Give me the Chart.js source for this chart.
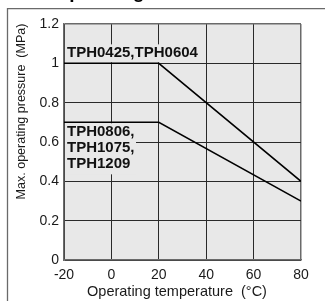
<!DOCTYPE html>
<html lang="en">
<head>
    <meta charset="UTF-8">
    <title>Max. operating pressure</title>
    <style>
        body {
            margin: 0;
            background: #fff;
        }
        canvas {
            display: block;
        }
    </style>
    <script src="https://cdn.jsdelivr.net/npm/chart.js"></script>
</head>
<body>
    <canvas id="pressureChart" width="325" height="301"></canvas>

    <script>
        // Data
        const temperatures = [-20, 20, 80];
        const pressureSmall = [1, 1, 0.4];    // TPH0425, TPH0604
        const pressureLarge = [0.7, 0.7, 0.3]; // TPH0806, TPH1075, TPH1209
        const xTicks = [-20, 0, 20, 40, 60, 80];
        const yTicks = [0, 0.2, 0.4, 0.6, 0.8, 1, 1.2];
        const yTickLabels = ['0', '0.2', '0.4', '0.6', '0.8', '1', '1.2'];
        const labelSmall = ['TPH0425,TPH0604'];
        const labelLarge = ['TPH0806,', 'TPH1075,', 'TPH1209'];

        const FONT = "'Liberation Sans', Arial, Helvetica, sans-serif";

        function toPoints(values) {
            return temperatures.map((t, i) => ({ x: t, y: values[i] }));
        }

        // Grey plot background, label boxes, titles and frame
        const decor = {
            id: 'decor',
            beforeDraw(chart) {
                const { ctx, chartArea: a } = chart;
                ctx.save();
                ctx.fillStyle = '#fff';
                ctx.fillRect(0, 0, chart.width, chart.height);
                ctx.fillStyle = '#e8e8e8';
                ctx.fillRect(a.left, a.top, a.right - a.left, a.bottom - a.top);
                ctx.restore();
            },
            beforeDatasetsDraw(chart) {
                const { ctx, scales } = chart;
                const x0 = scales.x.getPixelForValue(-20);
                ctx.save();
                ctx.fillStyle = '#e8e8e8';
                // box behind the upper label
                const y1 = scales.y.getPixelForValue(1);
                ctx.fillRect(x0 + 1, y1 - 19, 135, 18);
                // box behind the lower label
                const y2 = scales.y.getPixelForValue(0.7);
                ctx.fillRect(x0 + 1, y2 + 1, 71, 51);
                ctx.restore();
            },
            afterDatasetsDraw(chart) {
                const { ctx, scales } = chart;
                const x0 = scales.x.getPixelForValue(-20);
                ctx.save();
                ctx.fillStyle = '#111';
                ctx.font = 'bold 15px ' + FONT;
                ctx.textBaseline = 'middle';
                const y1 = scales.y.getPixelForValue(1);
                labelSmall.forEach((t, i) => ctx.fillText(t, x0 + 3, y1 - 10 + i * 16));
                const y2 = scales.y.getPixelForValue(0.7);
                labelLarge.forEach((t, i) => ctx.fillText(t, x0 + 3, y2 + 10 + i * 16));
                ctx.restore();
            },
            afterDraw(chart) {
                const { ctx } = chart;
                ctx.save();
                // outer frame (only left and top visible)
                ctx.strokeStyle = '#6a6a6a';
                ctx.lineWidth = 1.3;
                ctx.beginPath();
                ctx.moveTo(7.5, chart.height);
                ctx.lineTo(7.5, 8.7);
                ctx.lineTo(chart.width, 8.7);
                ctx.stroke();

                // heading cut off at the top edge
                ctx.fillStyle = '#000';
                ctx.font = 'bold 19px ' + FONT;
                ctx.textBaseline = 'alphabetic';
                ctx.fillText('Max. Operating Pressure', 7, -2.5);

                // axis titles
                ctx.fillStyle = '#1a1a1a';
                ctx.font = '14.5px ' + FONT;
                ctx.textAlign = 'center';
                ctx.textBaseline = 'middle';
                ctx.fillText('Operating temperature  (\u00b0C)', 177, 292);

                ctx.translate(22, 111.5);
                ctx.rotate(-Math.PI / 2);
                ctx.font = '12.5px ' + FONT;
                ctx.fillText('Max. operating pressure  (MPa)', 0, 0);
                ctx.restore();
            }
        };

        new Chart(document.getElementById('pressureChart'), {
            type: 'line',
            data: {
                datasets: [{
                    label: labelSmall.join(' '),
                    data: toPoints(pressureSmall),
                    borderColor: '#000',
                    borderWidth: 1.5,
                    pointRadius: 0,
                    tension: 0
                }, {
                    label: labelLarge.join(' '),
                    data: toPoints(pressureLarge),
                    borderColor: '#000',
                    borderWidth: 1.5,
                    pointRadius: 0,
                    tension: 0
                }]
            },
            options: {
                responsive: false,
                animation: false,
                devicePixelRatio: 1,
                layout: { padding: { left: 0, right: 24, top: 24, bottom: 0 } },
                plugins: {
                    legend: { display: false },
                    tooltip: { enabled: false }
                },
                scales: {
                    x: {
                        type: 'linear',
                        min: -20,
                        max: 80,
                        afterBuildTicks: s => { s.ticks = xTicks.map(v => ({ value: v })); },
                        afterFit: s => { s.height = 41; },
                        ticks: {
                            color: '#1a1a1a',
                            padding: 7,
                            maxRotation: 0,
                            font: { family: FONT, size: 14 }
                        },
                        grid: {
                            drawTicks: false,
                            color: c => (c.tick && c.tick.value === 80 ? '#6a6a6a' : '#2a2a2a'),
                            lineWidth: c => (c.tick && c.tick.value === 80 ? 1.5 : 1)
                        },
                        border: { color: '#6a6a6a', width: 1.5 }
                    },
                    y: {
                        min: 0,
                        max: 1.2,
                        afterBuildTicks: s => { s.ticks = yTicks.map(v => ({ value: v })); },
                        afterFit: s => { s.width = 64; },
                        ticks: {
                            color: '#1a1a1a',
                            padding: 5,
                            font: { family: FONT, size: 14 },
                            callback: (v, i) => yTickLabels[i]
                        },
                        grid: {
                            drawTicks: false,
                            color: c => (c.tick && c.tick.value === 1.2 ? '#6a6a6a' : '#2a2a2a'),
                            lineWidth: c => (c.tick && c.tick.value === 1.2 ? 1.5 : 1)
                        },
                        border: { color: '#6a6a6a', width: 1.5 }
                    }
                }
            },
            plugins: [decor]
        });
    </script>
</body>
</html>
